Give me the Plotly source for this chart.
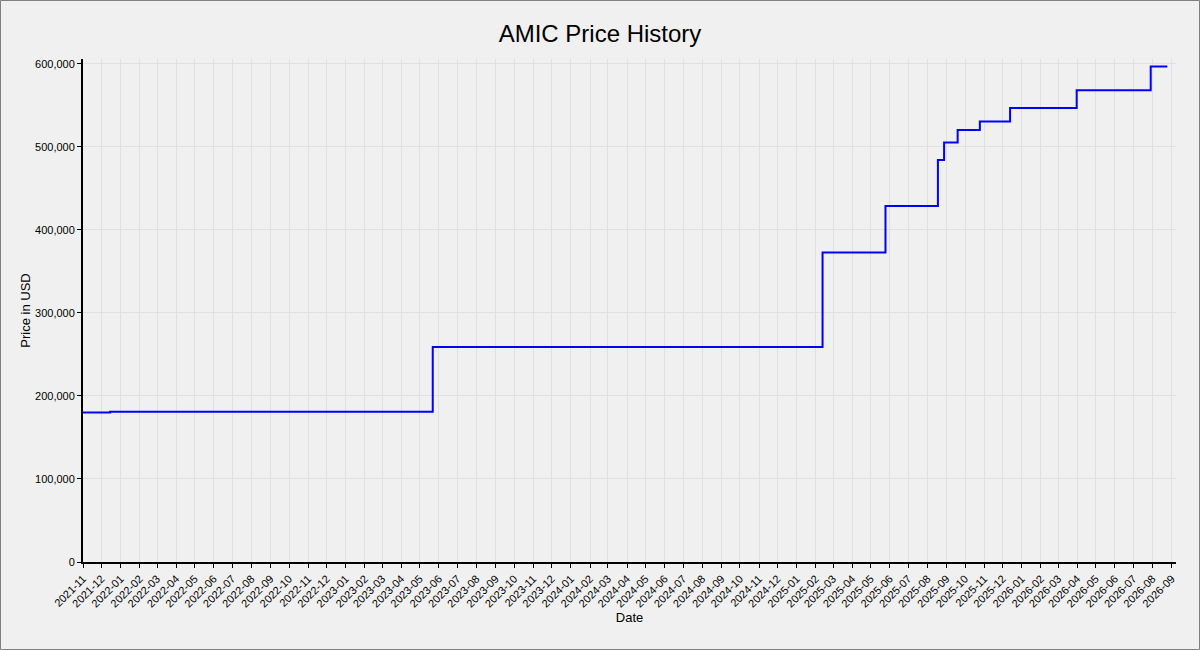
import plotly.graph_objects as go

# price change dates and the price that holds from that date
dates = [
    "2021-11-01", "2021-12-15", "2023-05-22", "2025-02-12", "2025-05-25",
    "2025-08-18", "2025-08-28", "2025-09-19", "2025-10-25", "2025-12-13",
    "2026-03-31", "2026-07-29", "2026-08-25",
]
prices = [
    180000, 181000, 259000, 372500, 428500,
    484000, 505000, 520000, 530500, 546500,
    568000, 596500, 596500,
]

fig = go.Figure()
fig.add_trace(go.Scatter(
    x=dates,
    y=prices,
    mode="lines",
    line=dict(color="#0000ff", width=2, shape="hv"),
    name="Price",
))

axis_style = dict(
    showline=True,
    linecolor="black",
    linewidth=2,
    ticks="outside",
    ticklen=4,
    tickcolor="black",
    showgrid=True,
    gridcolor="#e0e0e0",
    gridwidth=1,
    zeroline=False,
    tickfont=dict(size=11, color="black"),
)

fig.update_layout(
    width=1200,
    height=650,
    paper_bgcolor="#f0f0f0",
    plot_bgcolor="#f0f0f0",
    font=dict(family="Liberation Sans, Arial, sans-serif", color="black"),
    title=dict(text="AMIC Price History", x=0.5, xanchor="center",
               y=1 - 34 / 650, yanchor="middle", font=dict(size=24)),
    margin=dict(l=83, r=24, t=59, b=88),
    showlegend=False,
    xaxis=dict(
        axis_style,
        range=["2021-11-01", "2026-09-08"],
        dtick="M1",
        tick0="2021-11-01",
        tickformat="%Y-%m",
        tickangle=-45,
        title=dict(text="Date", font=dict(size=13), standoff=3),
    ),
    yaxis=dict(
        axis_style,
        range=[0, 605600],
        dtick=100000,
        tickformat=",",
        title=dict(text="Price in USD", font=dict(size=13), standoff=1),
    ),
    shapes=[dict(
        type="rect", xref="paper", yref="paper",
        x0=-82.5 / 1093, x1=1 + 23.5 / 1093,
        y0=-87.5 / 503, y1=1 + 58.5 / 503,
        line=dict(color="#808080", width=1),
        layer="below",
    )],
)

# the page has no body margin, so the figure sits at the window's corner
fig.write_html(
    "out.html",
    config={"displayModeBar": False},
    post_script="document.body.style.margin = '0';",
)
